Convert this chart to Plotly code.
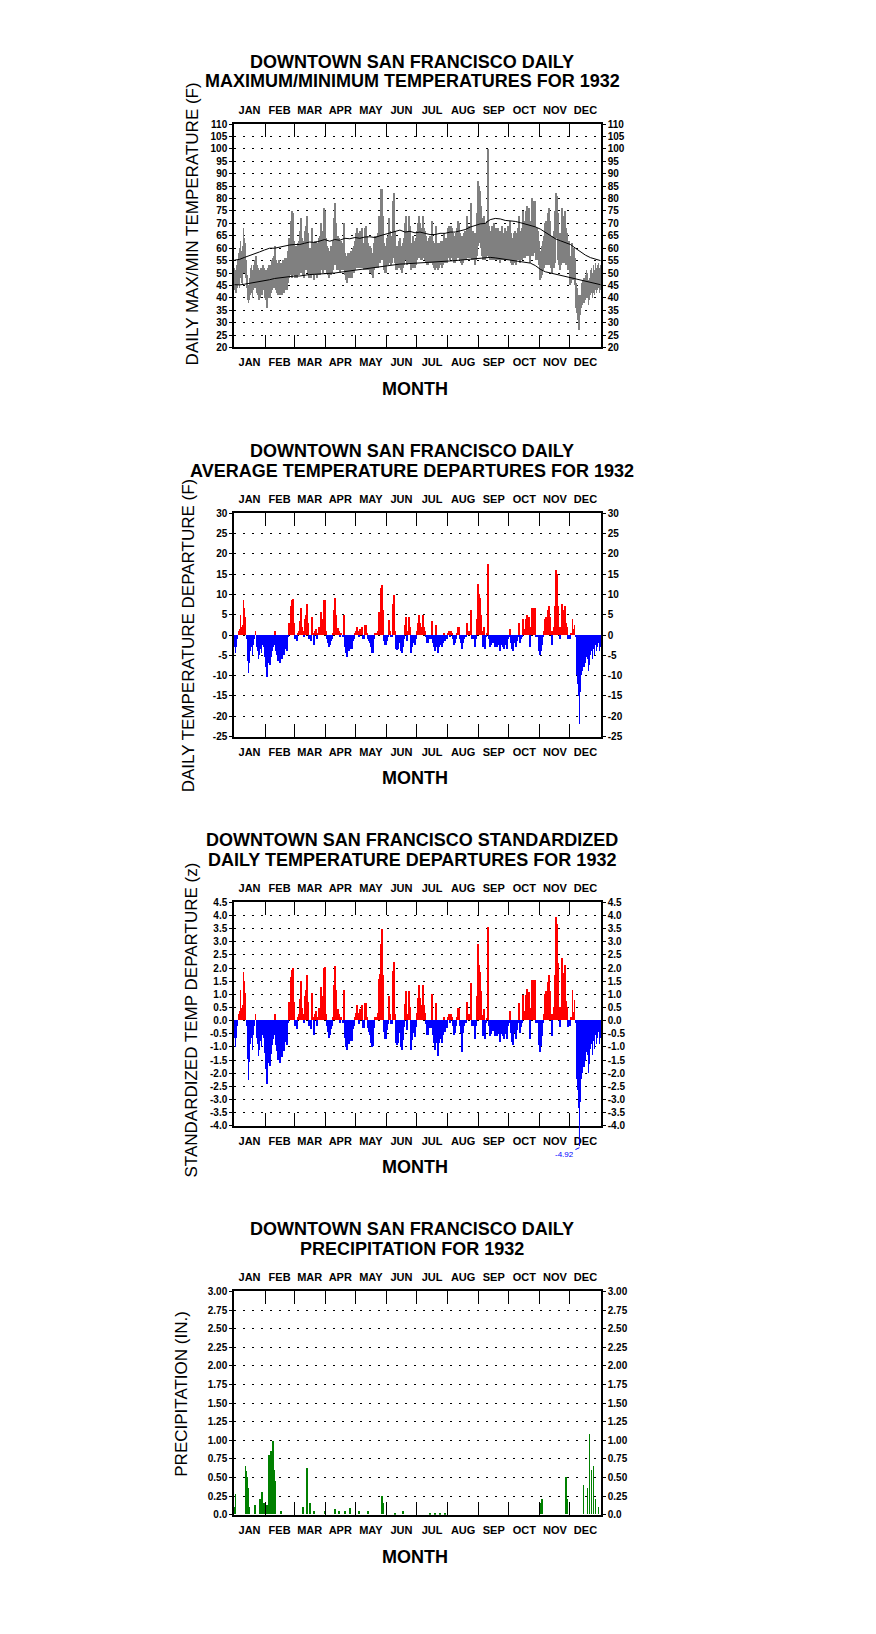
import numpy as np
import plotly.graph_objects as go

# ---------------- data ----------------
MONTHS = ["JAN", "FEB", "MAR", "APR", "MAY", "JUN", "JUL", "AUG", "SEP", "OCT", "NOV", "DEC"]
MONTH_DAYS = [31, 29, 31, 30, 31, 30, 31, 31, 30, 31, 30, 31]

# daily maximum temperature (F), 1932
TMAX = [
    52, 51, 53, 55, 58, 60, 63, 59, 61, 68, 64, 62, 55, 49, 45, 48, 52, 53, 51, 53, 55, 57, 53, 52, 50, 51, 52, 51, 53, 52, 50,
    51, 49, 52, 53, 51, 53, 55, 56, 57, 61, 55, 54, 52, 55, 51, 54, 53, 55, 54, 56, 56, 55, 59, 64, 63, 71, 75, 74, 63,
    60, 61, 59, 62, 63, 67, 72, 64, 63, 61, 67, 69, 73, 66, 60, 60, 59, 68, 62, 58, 63, 63, 60, 62, 64, 65, 70, 67, 66, 76, 75,
    64, 61, 60, 59, 59, 61, 61, 63, 72, 78, 70, 65, 65, 64, 62, 63, 62, 61, 70, 58, 57, 56, 58, 57, 58, 59, 58, 60, 61, 63,
    66, 68, 66, 63, 67, 66, 68, 62, 62, 68, 69, 65, 62, 61, 61, 60, 58, 58, 62, 65, 65, 64, 66, 73, 72, 84, 84, 73, 62, 61, 61,
    64, 65, 72, 67, 65, 65, 79, 82, 67, 61, 61, 61, 63, 64, 61, 60, 62, 64, 70, 73, 64, 67, 73, 69, 60, 62, 65, 63, 62, 64,
    67, 70, 73, 70, 68, 67, 73, 68, 67, 65, 63, 63, 64, 65, 64, 71, 63, 62, 61, 69, 62, 60, 62, 62, 63, 62, 63, 66, 63, 64, 64,
    68, 69, 67, 69, 68, 66, 64, 65, 66, 68, 71, 70, 66, 65, 63, 65, 66, 67, 67, 73, 68, 69, 69, 78, 66, 67, 66, 64, 66, 74, 87,
    85, 83, 77, 72, 66, 73, 65, 70, 71, 100, 69, 66, 67, 69, 68, 70, 66, 68, 66, 68, 67, 65, 67, 69, 66, 65, 68, 67, 65, 69,
    68, 71, 66, 64, 63, 66, 67, 65, 66, 68, 73, 66, 67, 68, 75, 70, 71, 75, 77, 71, 76, 64, 71, 80, 77, 79, 79, 68, 68, 67, 63,
    58, 59, 61, 63, 65, 70, 71, 68, 74, 76, 71, 65, 60, 65, 67, 75, 82, 81, 74, 66, 62, 66, 76, 73, 72, 75, 68, 66, 62, 63,
    55, 57, 62, 58, 60, 56, 46, 44, 41, 35, 41, 46, 47, 48, 48, 49, 51, 50, 47, 48, 51, 52, 50, 53, 51, 54, 52, 53, 54, 52, 53,
]

# daily minimum temperature (F), 1932
TMIN = [
    43, 42, 42, 44, 45, 44, 48, 46, 45, 50, 50, 48, 44, 39, 38, 39, 41, 42, 40, 43, 44, 46, 42, 41, 39, 40, 42, 41, 43, 43, 40,
    39, 36, 40, 41, 40, 42, 43, 44, 44, 47, 43, 42, 41, 43, 41, 42, 41, 43, 42, 43, 44, 43, 46, 48, 49, 49, 48, 50, 49,
    48, 48, 48, 49, 49, 50, 51, 50, 49, 48, 51, 51, 52, 50, 48, 48, 48, 51, 49, 47, 49, 50, 48, 49, 50, 49, 51, 51, 50, 51, 52,
    51, 50, 49, 48, 49, 49, 50, 51, 53, 53, 53, 51, 51, 51, 50, 51, 51, 51, 53, 49, 47, 46, 49, 48, 48, 49, 48, 50, 50, 51,
    52, 52, 52, 52, 52, 52, 52, 52, 51, 52, 51, 52, 51, 51, 50, 50, 49, 48, 51, 52, 52, 52, 52, 54, 54, 55, 56, 55, 51, 50, 50,
    53, 53, 55, 54, 53, 54, 56, 57, 54, 51, 51, 52, 52, 53, 51, 50, 52, 53, 55, 55, 53, 54, 55, 54, 51, 52, 53, 52, 52, 53,
    55, 56, 56, 56, 55, 55, 57, 56, 55, 54, 53, 53, 54, 54, 54, 56, 53, 52, 51, 55, 52, 51, 52, 53, 53, 52, 53, 55, 54, 54, 54,
    56, 56, 55, 56, 56, 55, 54, 54, 55, 56, 56, 57, 55, 54, 53, 54, 55, 56, 55, 56, 56, 56, 56, 57, 55, 55, 55, 53, 55, 57, 61,
    62, 62, 60, 57, 55, 58, 55, 56, 57, 62, 56, 55, 55, 56, 55, 56, 55, 55, 55, 56, 55, 54, 55, 56, 55, 55, 55, 55, 55, 56,
    55, 56, 54, 53, 53, 54, 55, 53, 55, 55, 57, 54, 55, 55, 57, 56, 56, 57, 57, 57, 57, 54, 57, 57, 57, 58, 58, 55, 55, 56, 53,
    47, 48, 49, 51, 52, 53, 53, 53, 53, 53, 53, 52, 50, 52, 52, 54, 65, 64, 55, 53, 51, 53, 54, 54, 54, 54, 53, 53, 51, 51,
    45, 46, 48, 47, 47, 45, 36, 34, 31, 27, 33, 36, 37, 38, 38, 39, 40, 40, 37, 39, 41, 42, 40, 42, 41, 43, 42, 43, 44, 42, 43,
]

# normal max / min, sampled every 5 days (day 0, 5, ..., 365)
NORM_MAX = [
    55.2, 55.5, 56.3, 57.0, 57.5, 58.5, 59.3, 60.0, 60.0, 60.5,
    61.0, 61.3, 61.5, 61.5, 62.0, 62.5, 62.3, 63.0, 63.5, 62.8,
    63.5, 63.2, 64.0, 63.8, 64.3, 64.0, 64.5, 64.6, 64.3, 65.0,
    65.5, 66.0, 66.5, 67.3, 66.5, 66.8, 66.2, 66.5, 66.0, 65.5,
    65.5, 66.0, 66.0, 66.5, 66.5, 67.0, 67.5, 68.5, 69.3, 69.8,
    70.0, 71.5, 72.0, 71.8, 71.2, 71.0, 70.8, 70.3, 69.8, 69.2,
    68.6, 67.7, 66.5, 65.0, 63.8, 63.0, 62.2, 61.5, 60.0, 58.5,
    57.2, 56.2, 55.5, 55.0,
]
NORM_MIN = [
    45.3, 45.2, 45.5, 45.8, 46.2, 46.6, 46.9, 47.3, 47.8, 48.1,
    48.2, 48.5, 48.8, 48.8, 49.2, 49.4, 49.5, 49.6, 49.5, 49.8,
    50.0, 50.3, 50.6, 50.9, 51.1, 51.4, 51.7, 52.0, 52.4, 52.7,
    53.0, 53.2, 53.4, 53.6, 53.7, 53.8, 54.0, 54.1, 54.2, 54.3,
    54.4, 54.6, 54.7, 54.9, 55.0, 55.2, 55.4, 55.6, 55.8, 56.0,
    56.2, 56.3, 56.1, 55.8, 55.6, 55.4, 55.1, 54.8, 54.6, 54.0,
    53.0, 51.5, 50.5, 50.0, 49.5, 49.0, 48.5, 48.0, 47.5, 47.0,
    46.5, 46.0, 45.6, 45.3,
]

# daily average temperature departure (F)
DEPART = [
    -3, -4.5, -3, -1, 1, 1.5, 5, 2, 2.5, 8.5, 6.5, 4.5, -1, -6.5, -9.5, -7, -4, -3, -5, -2.5, -1, 1, -3, -4, -6, -5, -3.5, -4.5, -2.5, -3, -5.5,
    -8, -10.5, -7, -6, -7.5, -5.5, -4, -3, -2.5, 1, -4, -5, -6.5, -4, -7, -5, -6, -4, -5, -3.5, -3, -4, -0.5, 3, 3, 7, 8.5, 8.8, 3,
    -1, -0.5, -1.5, 0.5, 1, 3.5, 6.5, 2, 1, -0.5, 4, 5, 7.5, 3, -1, -1, -1.5, 4.5, 0.5, -2.5, 1, 1.5, -1, 0.5, 2, 2, 5.5, 4, 3, 8.5, 8.5,
    1, -1, -2, -3, -2.5, -1.5, -1, 0.5, 6, 9, 5, 1.8, 1.8, 1, -0.5, 0.5, 0, -0.5, 5, -3, -4.5, -5.5, -3, -4, -3.5, -2.5, -3.5, -1.5, -1, 0.5,
    1, 2, 1, -0.5, 1.5, 1, 2, -1, -1, 2.3, 2.3, 0.5, -1, -1.5, -2, -3, -4.5, -4.5, -1, 0.5, 0.5, 0.5, 1, 5.5, 5, 11.5, 12.2, 6, -1.5, -2.5, -2.5,
    -1.5, -0.5, 3.7, 1, -0.5, -0.5, 7.5, 9.9, 1, -3.5, -3.8, -3.5, -2, -1, -4, -4.5, -3, -1, 2.5, 4.5, -1.5, 1, 4.5, 2, -4.5, -3, -0.5, -2, -2.5, -1,
    1, 3, 5, 3, 2, 1, 5, 2, 1, -0.5, -2, -2, -1, 0, -1, 3.5, -2, -3, -4, 2.3, -3, -4.5, -3, -2.5, -2, -3, -2, 0.5, -1.5, -1, -1,
    0.5, 1, -0.5, 1, 0.5, -1, -2.5, -2, -1, 0.5, 2, 2, -1, -2, -3.5, -2, -1, 0, -0.5, 3, 0.5, 1, 1, 6, -1, -0.5, -1, -3, -1, 4, 12.5,
    10, 9, 5, 1, -3, 2, -3.5, -0.5, 0.5, 17.5, -1, -3, -2.5, -1, -2, -0.5, -3, -2, -3, -1.5, -2.5, -4, -2.5, -1, -3, -3.5, -2, -2.5, -3.5, -1,
    -0.5, 1.5, -2, -3.5, -4, -2, -1, -3, -1.5, -0.5, 2.8, -2, -1, -0.5, 4, 1, 1.5, 4, 5, 2, 4.5, -3, 2, 6.5, 5, 6.5, 6.5, -0.5, -0.5, -0.5, -4,
    -5, -4, -2.5, -0.5, 1, 4, 4.5, 3, 6, 7, 4.5, 1, -2.5, 1, 2, 7, 16, 15, 7, 2, -1, 2, 7.5, 6, 5.5, 7, 3, 2, -1, -0.5,
    -1, 0.5, 4, 1.5, 2.5, -0.5, -10, -12, -15, -22, -14, -10, -9, -8, -8, -7, -5.5, -6, -9, -7.5, -5, -4, -6, -3.5, -5, -2.5, -4, -3, -2, -4, -3,
]

# standardized daily temperature departure (z)
ZDEP = [
    -0.68, -1.02, -0.68, -0.23, 0.23, 0.34, 1.14, 0.45, 0.57, 1.85, 1.48, 1.02, -0.23, -1.48, -2.28, -1.59, -0.91, -0.68, -1.14, -0.57, -0.23, 0.23, -0.68, -0.91, -1.36, -1.14, -0.8, -1.02, -0.57, -0.68, -1.25,
    -1.86, -2.44, -1.63, -1.4, -1.74, -1.28, -0.93, -0.7, -0.58, 0.23, -0.93, -1.16, -1.51, -0.93, -1.63, -1.16, -1.4, -0.93, -1.16, -0.81, -0.7, -0.93, -0.12, 0.7, 0.7, 1.63, 1.91, 1.98, 0.7,
    -0.23, -0.12, -0.35, 0.12, 0.23, 0.81, 1.51, 0.47, 0.23, -0.12, 0.93, 1.16, 1.74, 0.7, -0.23, -0.23, -0.35, 1.05, 0.12, -0.58, 0.23, 0.35, -0.23, 0.12, 0.47, 0.47, 1.28, 0.93, 0.7, 1.98, 2.04,
    0.23, -0.23, -0.45, -0.68, -0.57, -0.34, -0.23, 0.11, 1.36, 2.07, 1.14, 0.41, 0.41, 0.23, -0.11, 0.11, 0, -0.11, 1.14, -0.68, -1.02, -1.12, -0.68, -0.91, -0.8, -0.57, -0.8, -0.34, -0.23, 0.11,
    0.29, 0.57, 0.29, -0.14, 0.43, 0.29, 0.57, -0.29, -0.29, 0.66, 0.66, 0.14, -0.29, -0.43, -0.57, -0.86, -1.0, -0.98, -0.29, 0.14, 0.14, 0.14, 0.29, 1.57, 1.75, 2.9, 3.46, 1.71, -0.43, -0.71, -0.71,
    -0.38, -0.13, 0.93, 0.25, -0.13, -0.13, 1.88, 2.2, 0.25, -0.88, -0.95, -0.88, -0.5, -0.25, -1.0, -1.15, -0.75, -0.25, 0.63, 1.13, -0.38, 0.25, 1.13, 0.5, -1.13, -0.75, -0.13, -0.5, -0.63, -0.25,
    0.29, 0.86, 1.35, 0.86, 0.57, 0.29, 1.35, 0.57, 0.29, -0.14, -0.57, -0.57, -0.29, 0, -0.29, 1.0, -0.57, -0.86, -1.14, 0.66, -0.86, -1.36, -0.86, -0.71, -0.57, -0.86, -0.57, 0.14, -0.43, -0.29, -0.29,
    0.12, 0.23, -0.12, 0.23, 0.12, -0.23, -0.58, -0.47, -0.23, 0.12, 0.47, 0.47, -0.23, -0.47, -1.2, -0.47, -0.23, 0, -0.12, 0.7, 0.12, 0.23, 0.23, 1.4, -0.23, -0.12, -0.23, -0.7, -0.23, 0.93, 2.92,
    2.1, 1.85, 1.1, 0.2, -0.61, 0.41, -0.71, -0.1, 0.1, 3.55, -0.2, -0.61, -0.51, -0.2, -0.41, -0.1, -0.61, -0.41, -0.61, -0.31, -0.51, -0.82, -0.51, -0.2, -0.61, -0.71, -0.41, -0.51, -0.71, -0.2,
    -0.12, 0.36, -0.48, -0.83, -0.95, -0.48, -0.24, -0.71, -0.36, -0.12, 0.67, -0.48, -0.24, -0.12, 0.95, 0.24, 0.36, 0.95, 1.19, 0.48, 1.07, -0.71, 0.48, 1.55, 1.19, 1.55, 1.55, -0.12, -0.12, -0.12, -0.95,
    -1.22, -0.98, -0.61, -0.12, 0.24, 0.98, 1.1, 0.73, 1.46, 1.71, 1.1, 0.24, -0.61, 0.24, 0.49, 1.71, 3.92, 3.66, 2.16, 0.49, -0.24, 0.49, 2.35, 1.8, 1.7, 2.1, 0.73, 0.49, -0.24, -0.12,
    -0.22, 0.11, 1.16, 0.33, 0.78, -0.11, -2.22, -2.67, -3.33, -4.92, -3.11, -2.22, -2.0, -1.78, -1.78, -1.56, -1.22, -1.33, -2.0, -1.67, -1.11, -0.89, -1.33, -0.78, -1.11, -0.56, -0.89, -0.67, -0.44, -0.89, -0.67,
]

# daily precipitation (in.) on wet days: day of year (0 = Jan 1) and amount
PRCP_DAY = [0, 1, 11, 12, 13, 14, 15, 20, 25, 27, 28, 29, 32, 34, 35, 36, 38, 39, 40, 46,
            68, 72, 75, 79, 90, 100, 104, 110, 115, 124, 133, 147, 148, 160, 168,
            195, 200, 205, 210, 305, 307, 331, 332, 348, 352, 354, 356, 358, 360, 363]
PRCP_IN = [0.10, 0.28, 0.65, 0.58, 0.50, 0.35, 0.10, 0.12, 0.20, 0.30, 0.10, 0.15, 0.12, 0.80, 0.30, 0.85, 0.98, 0.60, 0.45, 0.05,
           0.10, 0.62, 0.15, 0.05, 0.05, 0.07, 0.05, 0.05, 0.08, 0.05, 0.05, 0.25, 0.15, 0.02, 0.05,
           0.01, 0.01, 0.01, 0.01, 0.15, 0.20, 0.50, 0.20, 0.40, 0.35, 1.08, 0.60, 0.65, 0.20, 0.10]

assert len(TMAX) == len(TMIN) == len(DEPART) == len(ZDEP) == 366

# ---------------- layout constants ----------------
W, H = 876, 1634
PL, PR = 234, 601
PH = 225
TOPS = [119, 511, 903, 1295]
FONT = "Liberation Sans"

bounds = np.concatenate([[0], np.cumsum(MONTH_DAYS)])
mids = (bounds[:-1] + bounds[1:]) / 2
days = np.arange(366) + 0.5
norm_x = np.arange(0, 366, 5) + 0.5


def px(x):
    return x / W


def py(y):
    return 1 - y / H


p1v = np.arange(20, 111, 5)
p2v = np.arange(-25, 31, 5)
p3v = np.round(np.arange(-4.0, 4.51, 0.5), 2)
p4v = np.round(np.arange(0, 3.01, 0.25), 2)

panels = [
    dict(rng=[20, 110], tv=list(p1v), tt=[str(v) for v in p1v],
         title=["DOWNTOWN SAN FRANCISCO DAILY", "MAXIMUM/MINIMUM TEMPERATURES FOR 1932"],
         ytitle="DAILY MAX/MIN TEMPERATURE (F)", ytx=192, yty=220),
    dict(rng=[-25, 30], tv=list(p2v), tt=[str(v) for v in p2v],
         title=["DOWNTOWN SAN FRANCISCO DAILY", "AVERAGE TEMPERATURE DEPARTURES FOR 1932"],
         ytitle="DAILY TEMPERATURE DEPARTURE (F)", ytx=188, yty=634),
    dict(rng=[-4.0, 4.5], tv=list(p3v), tt=[f"{v:.1f}" for v in p3v],
         title=["DOWNTOWN SAN FRANCISCO STANDARDIZED", "DAILY TEMPERATURE DEPARTURES FOR 1932"],
         ytitle="STANDARDIZED TEMP DEPARTURE (z)", ytx=191, yty=1022),
    dict(rng=[0, 3.0], tv=list(p4v), tt=["0.0" if v == 0 else f"{v:.2f}" for v in p4v],
         title=["DOWNTOWN SAN FRANCISCO DAILY", "PRECIPITATION FOR 1932"],
         ytitle="PRECIPITATION (IN.)", ytx=182, yty=1398),
]

fig = go.Figure()
layout = dict(width=W, height=H, margin=dict(l=0, r=0, t=0, b=0),
              paper_bgcolor="white", plot_bgcolor="white", showlegend=False,
              barmode="overlay", bargap=0)
annotations = []

tickfont_m = dict(family=FONT, size=11, color="black", weight="bold")
tickfont_y = dict(family=FONT, size=10, color="black", weight="bold")

for i, p in enumerate(panels):
    n = i + 1
    xm = "x" if n == 1 else f"x{n}"
    ym = "y" if n == 1 else f"y{n}"
    xt, yr = f"x{n + 4}", f"y{n + 4}"
    top = TOPS[i]
    xcommon = dict(range=[0, 366], tickmode="array", tickvals=list(mids), ticktext=MONTHS,
                   ticks="", showline=True, linecolor="black", linewidth=1.5,
                   showgrid=False, zeroline=False, tickfont=tickfont_m, ticklabelstandoff=4,
                   minor=dict(tickmode="array", tickvals=list(bounds[1:-1]), ticks="inside",
                              ticklen=13, tickwidth=1, tickcolor="black", showgrid=False),
                   fixedrange=True)
    ycommon = dict(range=p["rng"], tickmode="array", tickvals=p["tv"], ticktext=p["tt"],
                   ticks="outside", ticklen=3, tickcolor="black", tickwidth=1,
                   showline=True, linecolor="black", linewidth=1.5, zeroline=False,
                   tickfont=tickfont_y, fixedrange=True)
    layout["xaxis" if n == 1 else f"xaxis{n}"] = dict(
        domain=[px(PL), px(PR)], anchor=ym, side="bottom", **xcommon)
    layout[f"xaxis{n + 4}"] = dict(overlaying=xm, anchor=ym, side="top", **xcommon)
    layout["yaxis" if n == 1 else f"yaxis{n}"] = dict(
        domain=[py(top + PH), py(top)], anchor=xm, side="left",
        showgrid=True, gridcolor="black", gridwidth=1, griddash="2px,7px", **ycommon)
    layout[f"yaxis{n + 4}"] = dict(overlaying=ym, anchor=xm, side="right", showgrid=False, **ycommon)

    # helper traces so that the mirrored axes (top months, right values) are drawn
    fig.add_trace(go.Scatter(x=[None], y=[None], xaxis=xt, yaxis=ym, mode="markers",
                             showlegend=False, hoverinfo="skip"))
    fig.add_trace(go.Scatter(x=[None], y=[None], xaxis=xm, yaxis=yr, mode="markers",
                             showlegend=False, hoverinfo="skip"))

    # titles / labels
    annotations.append(dict(text=p["title"][0], x=px(412), y=py(top - 63), xref="paper", yref="paper",
                            showarrow=False, xanchor="center", yanchor="middle",
                            font=dict(family=FONT, size=18, color="black", weight="bold")))
    annotations.append(dict(text=p["title"][1], x=px(412), y=py(top - 43), xref="paper", yref="paper",
                            showarrow=False, xanchor="center", yanchor="middle",
                            font=dict(family=FONT, size=18, color="black", weight="bold")))
    annotations.append(dict(text="MONTH", x=px(415), y=py(top + PH + 42), xref="paper", yref="paper",
                            showarrow=False, xanchor="center", yanchor="middle",
                            font=dict(family=FONT, size=18, color="black", weight="bold")))
    annotations.append(dict(text=p["ytitle"], x=px(p["ytx"]), y=py(p["yty"]), xref="paper", yref="paper",
                            showarrow=False, xanchor="center", yanchor="middle", textangle=-90,
                            font=dict(family=FONT, size=17, color="black")))

# panel 1: daily max/min band and normals
fig.add_trace(go.Bar(x=days, y=np.array(TMAX) - np.array(TMIN), base=TMIN, width=0.9,
                     marker=dict(color="#808080", line=dict(width=0)), xaxis="x", yaxis="y"))
fig.add_trace(go.Scatter(x=norm_x, y=NORM_MAX, mode="lines", line=dict(color="black", width=1),
                         xaxis="x", yaxis="y"))
fig.add_trace(go.Scatter(x=norm_x, y=NORM_MIN, mode="lines", line=dict(color="black", width=1),
                         xaxis="x", yaxis="y"))

# panel 2: departures
dep_col = ["#ff0000" if v > 0 else "#0000ff" for v in DEPART]
fig.add_trace(go.Bar(x=days, y=DEPART, width=0.85, marker=dict(color=dep_col, line=dict(width=0)),
                     xaxis="x2", yaxis="y2"))

# panel 3: standardized departures (the off-scale minimum is labelled below the axis)
z_col = ["#ff0000" if v > 0 else "#0000ff" for v in ZDEP]
fig.add_trace(go.Bar(x=days, y=ZDEP, width=0.85, marker=dict(color=z_col, line=dict(width=0)),
                     xaxis="x3", yaxis="y3"))
zmin_i = int(np.argmin(ZDEP))
annotations.append(dict(text="", x=days[zmin_i], y=-4.0, xref="x3", yref="y3",
                        showarrow=True, arrowhead=0, arrowwidth=1, arrowcolor="#0000ff",
                        ax=0, ay=22, standoff=0, startstandoff=0))
annotations.append(dict(text=f"{ZDEP[zmin_i]:.2f}", x=days[zmin_i], y=-4.0, xref="x3", yref="y3",
                        yshift=-22, showarrow=True, arrowhead=0, arrowwidth=1, arrowcolor="#0000ff",
                        ax=-15, ay=7, font=dict(family=FONT, size=8, color="#0000ff")))

# panel 4: precipitation
fig.add_trace(go.Bar(x=np.array(PRCP_DAY) + 0.5, y=PRCP_IN, width=0.9,
                     marker=dict(color="#008000", line=dict(width=0)), xaxis="x4", yaxis="y4"))

layout["annotations"] = annotations
fig.update_layout(**layout)

fig.write_html("out.html", config={"displayModeBar": False},
               post_script="document.body.style.margin='0px';")
